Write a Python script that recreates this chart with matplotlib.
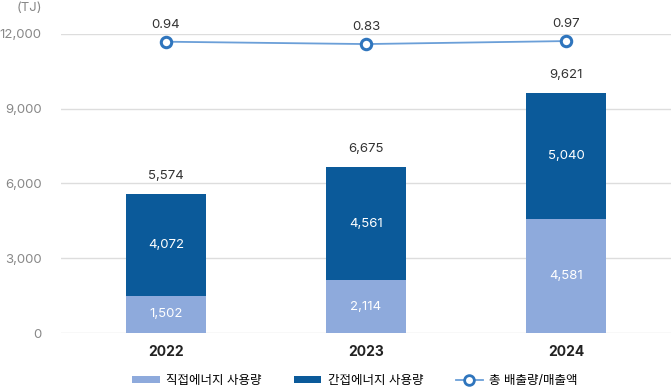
import matplotlib
matplotlib.use("Agg")
import matplotlib.pyplot as plt
from matplotlib.lines import Line2D
from matplotlib.patches import Patch

plt.rcParams['font.family'] = ['Inter', 'Noto Sans CJK KR', 'DejaVu Sans']

# data
years = ["2022", "2023", "2024"]
direct = [1502, 2114, 4581]
indirect = [4072, 4561, 5040]
totals = [5574, 6675, 9621]
intensity = [0.94, 0.83, 0.97]
yticks = [0, 3000, 6000, 9000, 12000]

light = "#8eaadc"
dark = "#0b5a9a"
line_c = "#2f75bd"
grid_c = "#dddddd"

W, H = 671, 388
fig = plt.figure(figsize=(W / 100, H / 100), dpi=100)
ax = fig.add_axes([61 / W, 55 / H, 610 / W, 299 / H])

x = list(range(len(years)))
ax.bar(x, direct, width=0.4, color=light, zorder=2)
ax.bar(x, indirect, width=0.4, bottom=direct, color=dark, zorder=2)

# value labels
for i in x:
    ax.text(i, direct[i] / 2, f"{direct[i]:,}", ha="center", va="center",
            color="white", fontsize=9.5, zorder=3)
    ax.text(i, direct[i] + indirect[i] / 2, f"{indirect[i]:,}", ha="center",
            va="center", color="white", fontsize=9.5, zorder=3)
    ax.text(i, totals[i] + 480, f"{totals[i]:,}", ha="center", va="bottom",
            color="#333333", fontsize=9.5)

ax.set_xlim(-0.525, 2.525)
ax.set_ylim(0, 12000)
ax.set_yticks(yticks)
ax.set_yticklabels([f"{v:,}" for v in yticks], color="#888888", fontsize=9.5)
ax.set_xticks(x)
ax.set_xticklabels(years, fontsize=10, fontweight="bold", color="#222222")
ax.tick_params(axis="both", length=0)
ax.tick_params(axis="x", pad=9)
ax.tick_params(axis="y", pad=14)
ax.grid(axis="y", color=grid_c, linewidth=1, zorder=0)
for s in ax.spines.values():
    s.set_visible(False)
fig.text(42 / W, 1 - 8 / H, "(TJ)", ha="right", va="center",
         color="#888888", fontsize=9.5)

# secondary line
ax2 = ax.twinx()
ax2.set_position(ax.get_position())
ax2.set_ylim(-12.66, 1.30)
ax2.axis("off")
ax2.plot(x, intensity, color="#6b9fd8", linewidth=1.3, marker="o",
         markersize=7.5, markerfacecolor="white", markeredgecolor=line_c,
         markeredgewidth=2.2, clip_on=False, zorder=4)
for i in x:
    ax2.annotate(f"{intensity[i]:.2f}", (i, intensity[i]), xytext=(0, 8),
                 textcoords="offset points", ha="center", va="bottom",
                 color="#333333", fontsize=9.5)

handles = [
    Patch(facecolor=light, edgecolor="none"),
    Patch(facecolor=dark, edgecolor="none"),
    Line2D([0], [0], color="#6b9fd8", linewidth=1.3, marker="o", markersize=7,
           markerfacecolor="white", markeredgecolor=line_c, markeredgewidth=2),
]
labels = ["직접에너지 사용량", "간접에너지 사용량", "총 배출량/매출액"]
fig.legend(handles, labels, loc="center", bbox_to_anchor=(355 / W, 1 - 381 / H),
           ncol=3, frameon=False, fontsize=9, handlelength=2.2,
           handleheight=0.45, columnspacing=2.6, handletextpad=0.5)

fig.savefig("out.png", dpi=100)
